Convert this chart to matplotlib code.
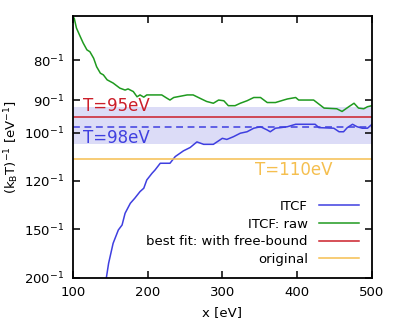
import matplotlib
matplotlib.use("Agg")
import matplotlib.pyplot as plt
import numpy as np

plt.rcParams["font.family"] = ["DejaVu Sans"]
plt.rcParams["mathtext.default"] = "regular"

# ITCF (blue): x [eV], temperature T [eV]
itcf_x = [145, 148, 154, 161, 166, 170, 177, 183, 190, 195, 199, 206, 210, 217,
          230, 237, 248, 257, 266, 275, 288, 300, 306, 315, 324, 333, 342, 351,
          360, 364, 371, 378, 387, 398, 424, 429, 449, 456, 462, 467, 474, 480,
          487, 494, 500]
itcf_T = [200, 181.9, 161.7, 150.5, 146.7, 138.5, 132.2, 129.2, 125.5, 123.7,
          119.5, 116.3, 114.8, 111.8, 111.8, 109.0, 106.7, 105.4, 103.3, 104.2,
          104.2, 102.0, 102.4, 101.4, 100.2, 99.7, 98.5, 98.0, 99.1, 99.7, 98.5,
          98.3, 98.0, 97.2, 97.2, 98.3, 98.5, 99.7, 99.7, 98.3, 97.2, 98.0, 98.5,
          98.5, 97.2]

# ITCF: raw (green)
raw_x = [100, 102, 105, 110, 114, 119, 123, 128, 132, 137, 141, 146, 154, 163,
         170, 174, 181, 186, 190, 195, 199, 219, 226, 230, 235, 253, 261, 270,
         279, 288, 295, 302, 308, 317, 324, 333, 342, 351, 360, 371, 382, 387,
         398, 402, 422, 436, 453, 460, 469, 476, 482, 489, 494, 500]
raw_T = [71.5, 71.7, 73.5, 75.1, 76.4, 77.8, 78.2, 79.6, 81.5, 83.0, 83.4, 84.6,
         85.4, 86.7, 87.2, 86.9, 87.6, 89.0, 88.5, 89.1, 88.5, 88.5, 89.4, 89.9,
         89.2, 88.5, 88.5, 89.4, 90.3, 90.8, 89.9, 90.1, 91.5, 91.5, 90.8, 90.1,
         89.2, 89.2, 90.6, 90.6, 89.9, 89.6, 89.2, 89.9, 89.9, 92.2, 92.4, 93.2,
         91.8, 90.8, 92.2, 92.4, 91.8, 91.5]

# constant temperatures [eV]
T_fit = 95
T_itcf = 98
T_band = [92, 104]
T_orig = 110

yticks_T = [80, 90, 100, 120, 150, 200]
xticks = [100, 200, 300, 400, 500]

blue = "#3f3fe0"
green = "#1f9a1f"
red = "#cc1f2a"
orange = "#f5bf4f"

fig = plt.figure(figsize=(3.99, 3.30), dpi=100)
ax = fig.add_axes([0.1822, 0.1585, 0.7501, 0.7930])

ax.axhspan(1 / T_band[1], 1 / T_band[0], color="#dcdcf7", lw=0, zorder=0)

ax.plot(itcf_x, 1 / np.array(itcf_T), color=blue, lw=1.1, label="ITCF")
ax.plot(raw_x, 1 / np.array(raw_T), color=green, lw=1.1, label="ITCF: raw")
ax.axhline(1 / T_fit, color=red, lw=1.1, label="best fit: with free-bound")
ax.axhline(1 / T_orig, color=orange, lw=1.1, label="original")
ax.axhline(1 / T_itcf, color=blue, lw=1.1, dashes=(4.5, 3))

ax.text(114, 1 / T_fit + 0.00008, f"T={T_fit}eV", color=red, fontsize=12,
        va="bottom", ha="left")
ax.text(114, 1 / T_itcf - 0.00008, f"T={T_itcf}eV", color=blue, fontsize=12,
        va="top", ha="left")
ax.text(344, 1 / T_orig - 0.00008, f"T={T_orig}eV", color=orange, fontsize=12,
        va="top", ha="left")

ax.set_xlim(100, 500)
ax.set_ylim(1 / 200, 0.01402)
ax.set_xticks(xticks)
ax.set_xticklabels([str(v) for v in xticks])
ax.set_yticks([1 / t for t in yticks_T])
ax.set_yticklabels([f"${t}^{{-1}}$" for t in yticks_T])
ax.tick_params(direction="in", length=5, width=1.1, labelsize=9.5,
               top=True, right=True, pad=6)
for s in ax.spines.values():
    s.set_linewidth(1.3)

ax.set_xlabel("x [eV]", fontsize=9.5, labelpad=5)
ax.set_ylabel(r"$(k_B T)^{-1}$ [eV$^{-1}$]", fontsize=9.5, labelpad=2)

ax.legend(loc="lower right", bbox_to_anchor=(0.958, 0.045), frameon=False,
          markerfirst=False, fontsize=9.5, handlelength=3.1, handletextpad=0.8,
          labelspacing=0.35, borderpad=0, borderaxespad=0)

fig.savefig("out.png", dpi=100)
